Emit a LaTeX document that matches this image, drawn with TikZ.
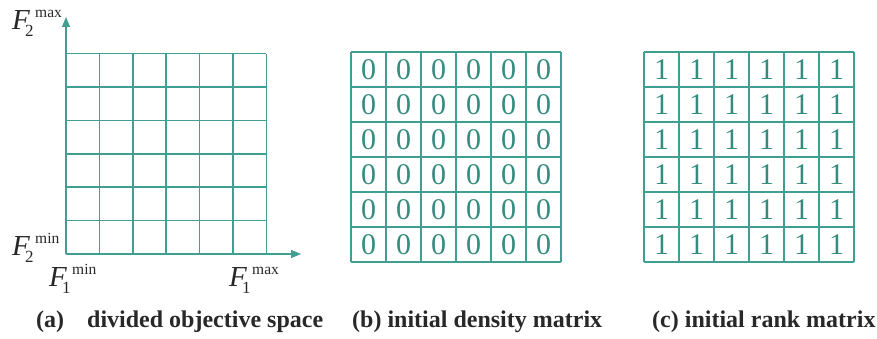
\documentclass[tikz,border=0pt]{standalone}
\usepackage{fontspec}
\setmainfont{Liberation Serif}
\usetikzlibrary{arrows.meta}
\definecolor{gridteal}{RGB}{64,158,146}
\definecolor{digitteal}{RGB}{52,140,126}
\definecolor{inkgray}{RGB}{40,40,40}
\newcommand\Flab[2]{\makebox[0pt][l]{\fontsize{29}{29}\selectfont\textit{F}}\hspace{13pt}\rlap{\raisebox{-7pt}{\fontsize{17}{17}\selectfont #1}}\hspace{10pt}\raisebox{12pt}{\fontsize{15.5}{15.5}\selectfont #2}}
\begin{document}
\begin{tikzpicture}[x=1pt,y=1pt,
  gridline/.style={gridteal,line width=1.6pt},
  axis/.style={gridteal,line width=1.2pt,-{Triangle[length=10pt,width=8pt]}},
  digit/.style={text=digitteal,font=\fontsize{30}{30}\selectfont,inner sep=0pt},
  flabel/.style={anchor=base west,inner sep=0pt,text=inkgray},
  caption/.style={anchor=base west,inner sep=0pt,font=\fontsize{24}{24}\selectfont\bfseries,text=inkgray}]
\useasboundingbox (0,0) rectangle (877,339);

% (a) divided objective space
\coordinate (O) at (66,85);
\coordinate (ytip) at (66,322);
\coordinate (xtip) at (301,85);
\foreach \i in {0,...,6}{
  \draw[gridline] ({66+33.4*\i},85) -- ({66+33.4*\i},285.4);
  \draw[gridline] (66,{85+33.4*\i}) -- (266.4,{85+33.4*\i});
}
\draw[axis] (O) -- (ytip);
\draw[axis] (O) -- (xtip);
\node[flabel] (f2max) at (12,309) {\Flab{2}{max}};
\node[flabel] (f2min) at (12,83) {\Flab{2}{min}};
\node[flabel] (f1min) at (49,52) {\Flab{1}{min}};
\node[flabel] (f1max) at (229,52) {\Flab{1}{max}};

% (b) initial density matrix
\foreach \i in {0,...,6}{
  \draw[gridline] ({351+35*\i},77) -- ({351+35*\i},287);
  \draw[gridline] (351,{77+35*\i}) -- (561,{77+35*\i});
}
\foreach \i in {0,...,5}{
  \foreach \j in {0,...,5}{
    \node[digit] (b-\i-\j) at ({351+35*\i+17.5},{77+35*\j+17.5}) {0};
  }
}

% (c) initial rank matrix
\foreach \i in {0,...,6}{
  \draw[gridline] ({644+35*\i},77) -- ({644+35*\i},287);
  \draw[gridline] (644,{77+35*\i}) -- (854,{77+35*\i});
}
\foreach \i in {0,...,5}{
  \foreach \j in {0,...,5}{
    \node[digit] (c-\i-\j) at ({644+35*\i+17.5},{77+35*\j+17.5}) {1};
  }
}

% captions
\node[caption] (capa) at (36,11) {(a)};
\node[caption] (capa2) at (87,11) {divided objective space};
\node[caption] (capb) at (352,11) {(b) initial density matrix};
\node[caption] (capc) at (652,11) {(c) initial rank matrix};
\end{tikzpicture}
\end{document}
